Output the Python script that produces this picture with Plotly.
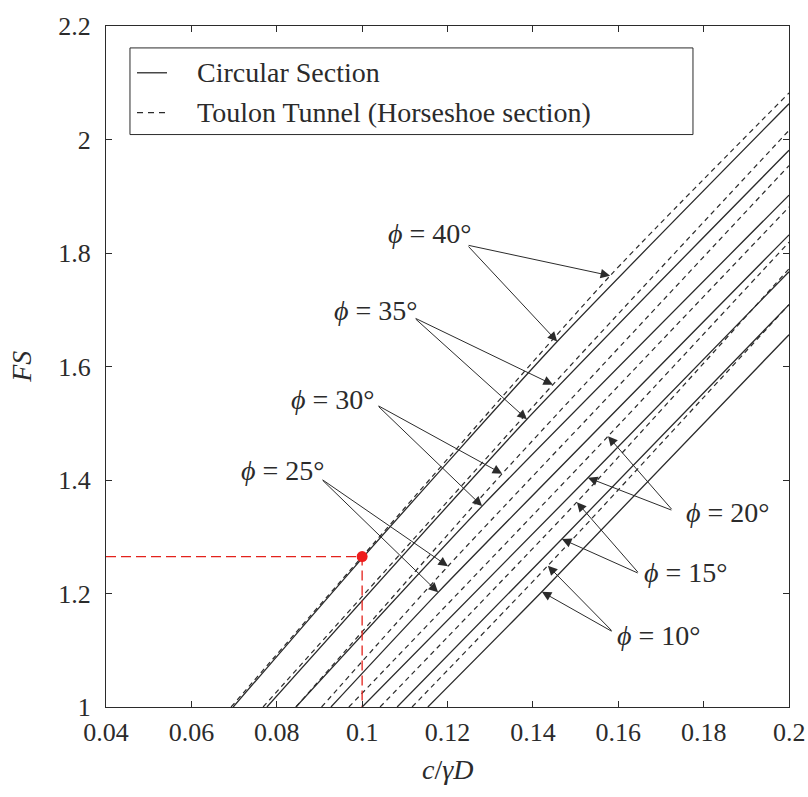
import plotly.graph_objects as go

# Friction angles (deg) of the curve families
phi_values = [40, 35, 30, 25, 20, 15, 10]

# Circular section: c/γD and FS along each curve
circ_x = [
    [0.0698, 0.1000, 0.1457, 0.2000],
    [0.0777, 0.1386, 0.2000],
    [0.0845, 0.1281, 0.2000],
    [0.0927, 0.1178, 0.2000],
    [0.1000, 0.1529, 0.2000],
    [0.1082, 0.1468, 0.2000],
    [0.1154, 0.1421, 0.2000],
]
circ_fs = [
    [1.000, 1.262, 1.644, 2.063],
    [1.000, 1.507, 1.981],
    [1.000, 1.354, 1.902],
    [1.000, 1.202, 1.832],
    [1.000, 1.404, 1.767],
    [1.000, 1.296, 1.709],
    [1.000, 1.203, 1.656],
]
circ_tip = [2, 1, 1, 1, 1, 1, 1]

# Toulon tunnel (horseshoe section)
toulon_x = [
    [0.0693, 0.1000, 0.1581, 0.2000],
    [0.0768, 0.1447, 0.2000],
    [0.0845, 0.1328, 0.2000],
    [0.0905, 0.1201, 0.2000],
    [0.0969, 0.1576, 0.2000],
    [0.1042, 0.1503, 0.2000],
    [0.1117, 0.1435, 0.2000],
]
toulon_fs = [
    [1.000, 1.265, 1.760, 2.082],
    [1.000, 1.568, 2.016],
    [1.000, 1.411, 1.954],
    [1.000, 1.248, 1.881],
    [1.000, 1.477, 1.819],
    [1.000, 1.361, 1.772],
    [1.000, 1.249, 1.709],
]
toulon_tip = [2, 1, 1, 1, 1, 1, 1]

# Design point
point_x = 0.10
point_fs = 1.265

# Axis ticks (the last x label is placed separately so it sits flush with the frame)
x_ticks = [0.04, 0.06, 0.08, 0.10, 0.12, 0.14, 0.16, 0.18, 0.20]
x_ticktext = ["0.04", "0.06", "0.08", "0.1", "0.12", "0.14", "0.16", "0.18", ""]
x_last_label = "0.2"
y_ticks = [1.0, 1.2, 1.4, 1.6, 1.8, 2.0, 2.2]
y_ticktext = ["1", "1.2", "1.4", "1.6", "1.8", "2", "2.2"]

# Label anchor (text centre) and arrow tail for each φ, in data units
label_pos = {
    40: (0.1159, 1.835, 0.1246, 1.814),
    35: (0.1033, 1.698, 0.1122, 1.686),
    30: (0.0932, 1.542, 0.1035, 1.532),
    25: (0.0815, 1.416, 0.0904, 1.402),
    20: (0.1857, 1.342, 0.1728, 1.346),
    15: (0.1759, 1.237, 0.1649, 1.235),
    10: (0.1695, 1.126, 0.1588, 1.132),
}

INK = "#2b2b2b"
FONT = "Liberation Serif"

fig = go.Figure()

for xs, ys in zip(circ_x, circ_fs):
    fig.add_trace(go.Scatter(
        x=xs, y=ys, mode="lines", showlegend=False, hoverinfo="skip",
        line=dict(color=INK, width=1.3, shape="spline", smoothing=0.6),
    ))
for xs, ys in zip(toulon_x, toulon_fs):
    fig.add_trace(go.Scatter(
        x=xs, y=ys, mode="lines", showlegend=False, hoverinfo="skip",
        line=dict(color=INK, width=1.2, dash="5px,4px", shape="spline", smoothing=0.6),
    ))

# Red guide lines to the design point
fig.add_trace(go.Scatter(
    x=[x_ticks[0], point_x, point_x], y=[point_fs, point_fs, y_ticks[0]],
    mode="lines", showlegend=False, hoverinfo="skip",
    line=dict(color="#e3221c", width=1.3, dash="10px,5px"),
))
fig.add_trace(go.Scatter(
    x=[point_x], y=[point_fs], mode="markers", showlegend=False, hoverinfo="skip",
    marker=dict(color="#ee1c1c", size=11),
))

annotations = []
for i, phi in enumerate(phi_values):
    lx, ly, tx, ty = label_pos[phi]
    annotations.append(dict(
        x=lx, y=ly, xref="x", yref="y", showarrow=False,
        text=f"<i>ϕ</i> = {phi}°", font=dict(family=FONT, size=28, color=INK),
    ))
    for xs, ys, k in ((circ_x[i], circ_fs[i], circ_tip[i]),
                      (toulon_x[i], toulon_fs[i], toulon_tip[i])):
        annotations.append(dict(
            x=xs[k], y=ys[k], xref="x", yref="y",
            ax=tx, ay=ty, axref="x", ayref="y",
            text="", showarrow=True, arrowhead=2, arrowsize=1.9,
            arrowwidth=1, arrowcolor=INK, standoff=0,
        ))

# Last x tick label
annotations.append(dict(
    x=x_ticks[-1], y=0, xref="x", yref="paper", showarrow=False,
    xanchor="center", yanchor="top", yshift=-9,
    text=x_last_label, font=dict(family=FONT, size=26, color=INK),
))

# Axis titles
annotations.append(dict(
    x=-0.124, y=0.5, xref="paper", yref="paper", showarrow=False,
    xanchor="center", yanchor="middle",
    text="<i>FS</i>", textangle=-90, font=dict(family=FONT, size=28, color=INK),
))
annotations.append(dict(
    x=0.5, y=-0.092, xref="paper", yref="paper", showarrow=False,
    xanchor="center", yanchor="middle",
    text="<i>c</i>/<i>γD</i>", font=dict(family=FONT, size=28, color=INK),
))

# Legend drawn as a framed box
legend_rows = [("Circular Section", None, 0.9313), ("Toulon Tunnel (Horseshoe section)", "6px,5px", 0.8728)]
shapes = [dict(
    type="rect", xref="paper", yref="paper", x0=0.0351, x1=0.8594, y0=0.8406, y1=0.9678,
    line=dict(color=INK, width=1), fillcolor="white", layer="above",
)]
for text, dash, yy in legend_rows:
    shapes.append(dict(
        type="line", xref="paper", yref="paper", x0=0.0454, x1=0.0893, y0=yy, y1=yy,
        line=dict(color=INK, width=1.3, dash=dash if dash else "solid"), layer="above",
    ))
    annotations.append(dict(
        x=0.130, y=yy, xref="paper", yref="paper", showarrow=False,
        xanchor="left", yanchor="middle",
        text=text, font=dict(family=FONT, size=28, color=INK),
    ))

axis_common = dict(
    showgrid=False, zeroline=False, showline=True, linecolor=INK, linewidth=1,
    mirror="allticks", ticks="inside", ticklen=6, tickcolor=INK, tickwidth=1,
    tickfont=dict(family=FONT, size=26, color=INK),
)

fig.update_layout(
    width=808, height=797,
    margin=dict(l=106, r=19, t=23, b=90),
    plot_bgcolor="white", paper_bgcolor="white",
    xaxis=dict(range=[0.04, 0.2], tickvals=x_ticks, ticktext=x_ticktext,
               ticklabelstandoff=2, **axis_common),
    yaxis=dict(range=[1.0, 2.2], tickvals=y_ticks, ticktext=y_ticktext,
               ticklabelstandoff=9, **axis_common),
    annotations=annotations,
    shapes=shapes,
    showlegend=False,
)

fig.write_html("out.html")
